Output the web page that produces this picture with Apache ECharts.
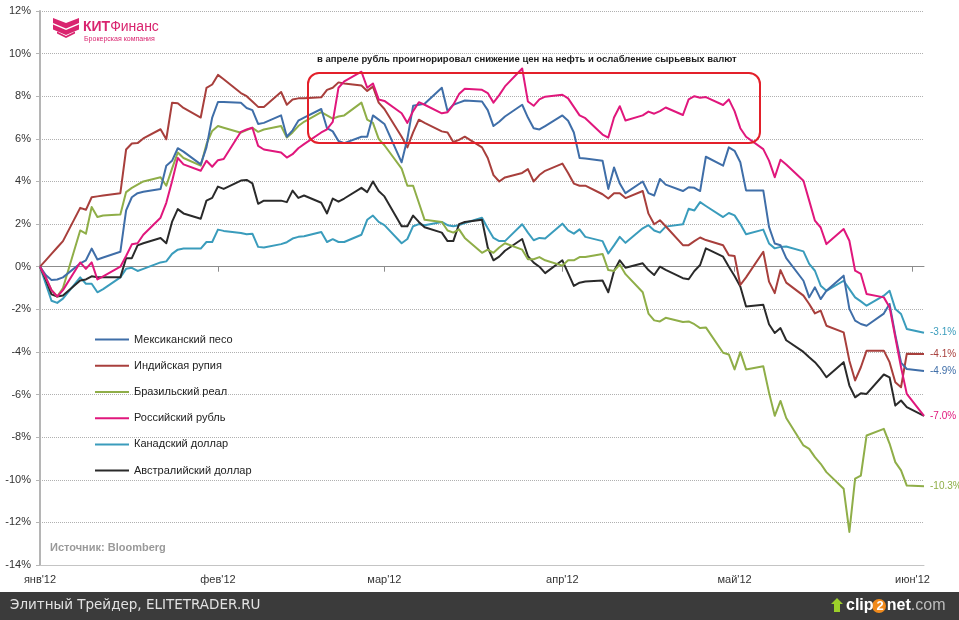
<!DOCTYPE html>
<html>
<head>
<meta charset="utf-8">
<script src="https://cdn.jsdelivr.net/npm/echarts@6/dist/echarts.min.js"></script>
<style>
html,body{margin:0;padding:0;background:#fff;}
#chart{width:959px;height:620px;}
</style>
</head>
<body>
<div id="chart"></div>
<script>
// ---- data (daily % change since start of year, weekdays Jan 2 – Jun 4 2012) ----
const monthLabels = ["янв'12", "фев'12", "мар'12", "апр'12", "май'12", "июн'12"];
const seriesNames = ["Мексиканский песо", "Индийская рупия", "Бразильский реал", "Российский рубль", "Канадский доллар", "Австралийский доллар"];

const peso = [0, -0.39, -0.62, -0.6, -0.5,
 0.15, 0.3, 0.85, 0.34, 0.43,
 0.7, 2.64, 3.26, 3.45, 3.52,
 3.65, 4.74, 4.97, 5.56, 5.4,
 4.8, 5.6, 7.0, 7.73, 7.73,
 7.69, 7.45, 7.35, 6.7, 6.75,
 7.1, 6.1, 6.4, 6.85, 7.0,
 7.4, 6.5, 6.35, 5.9, 5.8,
 6.1, 6.1, 7.1, 6.9, 6.7,
 4.9, 6.0, 7.55, 7.6, 7.65,
 8.4, 7.3, 7.6, 7.7, 7.8,
 7.75, 7.35, 6.6, 6.8, 7.05,
 7.6, 7.0, 6.5, 6.44, 6.6,
 7.1, 6.85, 6.3, 5.1, 5.08,
 4.97, 3.65, 4.66, 3.9, 3.45,
 4.0, 3.45, 3.34, 4.12, 3.85,
 3.55, 3.73, 3.7, 3.55, 5.16,
 4.74, 5.6, 5.44, 4.9, 3.58,
 3.58, 1.87, 1.09, 1.01, 0.4,
 -0.66, -1.44, -0.97, -1.52, -1.13,
 -0.42, -1.98, -2.53, -2.69, -2.77,
 -2.2, -1.75, -3.2, -4.5, -4.8,
 -4.9];

const rupee = [0, 0.3, 0.6, 0.9, 1.2,
 2.76, 2.67, 3.26, 3.3, 3.34,
 3.45, 5.5, 5.78, 5.8, 6.02,
 6.45, 5.98, 7.69, 7.67, 7.45,
 7.0, 8.39, 8.55, 9.0, 8.8,
 8.15, 8.0, 7.75, 7.5, 7.5,
 8.2, 7.6, 7.85, 7.9, 7.9,
 7.95, 8.3, 8.4, 8.65, 8.6,
 8.5, 8.25, 8.45, 7.7, 7.4,
 6.1, 5.6, 6.3, 6.9, 6.75,
 6.35, 6.3, 5.85, 5.95, 6.1,
 5.6, 5.1, 4.3, 4.0, 4.19,
 4.4, 4.58, 4.0, 4.3, 4.5,
 4.84, 4.4, 3.9, 3.8, 3.8,
 3.4, 3.2, 3.45, 3.45, 3.22,
 3.55, 2.49, 1.99, 2.18, 1.9,
 1.01, 1.01, 1.2, 1.37, 1.25,
 1.01, 0.54, 0.5, -0.86, -0.5,
 0.7, -0.7, -1.24, -0.16, -0.75,
 -1.36, -1.75, -2.19, -2.06, -2.77,
 -3.08, -4.41, -5.34, -4.72, -3.94,
 -3.94, -4.48, -5.42, -5.66, -4.09,
 -4.1];

const real = [0, -0.5, -1.1, -1.4, -1.0,
 1.7, 1.55, 2.8, 2.33, 2.4,
 2.45, 3.5, 3.7, 3.85, 4.0,
 4.2, 3.8, 4.6, 5.36, 5.1,
 4.74, 5.75, 6.37, 6.6, 6.52,
 6.29, 6.41, 6.52, 6.33, 6.44,
 6.6, 6.06, 6.3, 6.6, 6.8,
 7.25, 7.1, 6.95, 7.05, 7.1,
 7.7, 6.9, 6.75, 6.0, 5.7,
 4.6, 3.8, 3.8, 3.0, 2.2,
 2.1, 1.7, 1.6, 1.75, 1.35,
 0.65, 0.8, 0.65, 0.9, 1.1,
 0.8, 0.35, 0.35, 0.45, 0.3,
 0.05, 0.3, 0.3, 0.45, 0.45,
 0.6, -0.16, -0.2, 0.1, -0.35,
 -1.2, -2.2, -2.52, -2.57, -2.4,
 -2.6, -2.57, -2.7, -2.88, -2.85,
 -4.04, -4.12, -4.82, -4.01, -4.82,
 -4.67, -5.91, -7.0, -6.3, -7.1,
 -8.39, -8.55, -8.94, -9.25, -9.64,
 -10.42, -12.45, -9.95, -9.8, -7.92,
 -7.61, -8.3, -9.17, -9.56, -10.27,
 -10.3];

const ruble = [0, -0.5, -1.1, -1.4, -1.1,
 0.2, -0.1, 0.2, -0.6, -0.45,
 0.0, 0.5, 1.05, 1.1, 1.5,
 2.3, 3.0, 4.0, 5.1, 4.8,
 4.5, 4.97, 4.69, 5.0, 5.05,
 6.33, 6.44, 6.52, 5.67, 5.5,
 5.36, 5.12, 5.28, 5.56, 5.75,
 6.3, 6.45, 6.8, 8.4, 8.7,
 9.15, 8.4, 8.6, 7.85, 7.78,
 7.2, 6.75, 7.3, 7.72, 7.6,
 7.2, 7.25, 7.6, 8.1, 8.35,
 8.3, 8.15, 7.7, 8.05, 8.46,
 9.3, 7.75, 7.55, 7.85, 7.98,
 8.07, 7.9, 7.5, 7.1, 6.97,
 6.2, 6.06, 7.0, 7.53, 6.86,
 7.1, 7.28, 7.18, 7.3, 7.47,
 7.12, 7.85, 8.0, 7.93, 7.96,
 7.59, 7.85, 7.3, 6.5, 6.1,
 5.52, 4.98, 4.2, 5.02, 4.8,
 4.03, 3.1, 2.16, 1.84, 1.06,
 1.77, 1.22, -0.19, -0.34, -1.28,
 -1.44, -1.9, -3.31, -4.72, -5.97,
 -7.0];

const cad = [0, -0.8, -1.6, -1.7, -1.5,
 -0.5, -0.8, -0.8, -1.2, -1.05,
 -0.5, -0.1, -0.05, -0.2, -0.1,
 0.2, 0.25, 0.6, 0.8, 0.85,
 0.85, 1.16, 1.16, 1.74, 1.68,
 1.58, 1.52, 1.55, 0.93, 0.9,
 1.06, 1.15, 1.32, 1.4, 1.43,
 1.63, 1.16, 1.29, 1.16, 1.16,
 1.5, 2.2, 2.4, 2.1, 1.95,
 1.1, 1.3, 1.9, 2.0, 1.95,
 2.1, 1.95, 1.9, 1.95, 2.05,
 2.3, 1.8, 1.35, 1.2, 1.2,
 1.99, 1.6, 1.24, 1.35, 1.32,
 2.02, 1.7, 1.55, 1.75, 1.4,
 1.2, 0.62, 1.0, 1.4, 1.12,
 1.8, 1.95, 1.7, 1.6, 1.88,
 1.99, 2.72, 2.64, 3.03, 2.85,
 2.33, 2.52, 2.41, 2.0, 1.52,
 1.74, 1.09, 0.86, 0.93, 0.95,
 0.72, 0.13, -0.19, -0.89, -1.13,
 -0.66, -1.05, -1.44, -1.63, -1.83,
 -1.36, -1.13, -1.98, -2.22, -2.92,
 -3.1];

const aud = [0, -0.6, -1.3, -1.4, -1.35,
 -0.65, -0.6, -0.45, -0.5, -0.5,
 -0.5, 0.4, 0.4, 1.0, 1.1,
 1.35, 1.1, 2.1, 2.7, 2.5,
 2.25, 3.1, 3.23, 3.76, 3.65,
 4.04, 4.07, 3.91, 2.95, 3.1,
 3.1, 3.03, 3.57, 3.23, 3.34,
 3.0, 2.5, 3.2, 3.05, 3.2,
 3.7, 3.5, 4.0, 3.55, 3.3,
 1.9, 1.9, 2.4, 2.1, 1.85,
 1.6, 1.2, 1.2, 2.0, 2.1,
 2.2, 0.9, 0.3, 0.47, 0.75,
 1.3, 0.5, 0.19, 0.0, -0.3,
 0.3, -0.3, -0.9, -0.75, -0.7,
 -0.65, -1.2, -0.2, 0.3, -0.05,
 0.16, -0.16, -0.39, 0.0, -0.15,
 -0.54, -0.59, -0.2, 0.08, 0.86,
 0.47, 0.0, -0.44, -0.93, -1.87,
 -1.79, -2.7, -3.11, -2.88, -3.45,
 -4.0, -4.25, -4.48, -4.8, -5.19,
 -4.48, -5.58, -6.13, -5.94, -5.97,
 -5.06, -5.19, -6.52, -6.28, -6.59,
 -7.0];

// ---- calendar axis: every day Jan 2 .. Jun 4 2012; data on weekdays ----
const calendar = [];
const tradeIdx = [];
for (let i = 0; i <= 154; i++) {
  const d = new Date(Date.UTC(2012, 0, 2 + i));
  calendar.push(d.toISOString().slice(0, 10));
  const wd = d.getUTCDay();
  if (wd >= 1 && wd <= 5) tradeIdx.push(i);
}
const isMonthMark = (idx) => calendar[idx] && calendar[idx].slice(8, 10) === '02';
const monthOf = (v) => monthLabels[parseInt(v.slice(5, 7), 10) - 1];

const colors = {
  peso: '#3f6ea8', rupee: '#a83f3c', real: '#8fae48',
  ruble: '#e0177c', cad: '#3a9cbc', aud: '#2a2a2a'
};

function mk(name, arr, color, z, label) {
  return {
    name: name, type: 'line', xAxisIndex: 0, yAxisIndex: 0,
    data: tradeIdx.map((d, i) => [d, arr[i]]),
    symbol: 'none', z: z,
    lineStyle: { width: 2, color: color, join: 'round' },
    itemStyle: { color: color },
    endLabel: label ? {
      show: true, distance: 6, color: color, fontSize: 10,
      fontFamily: 'Liberation Sans',
      formatter: (p) => p.value[1].toFixed(1) + '%'
    } : { show: false }
  };
}

const chart = echarts.init(document.getElementById('chart'), null, { renderer: 'canvas' });
const option = {
  animation: false,
  backgroundColor: '#ffffff',
  textStyle: { fontFamily: 'Liberation Sans' },
  grid: { left: 40, right: 35, top: 11, bottom: 55, containLabel: false },
  legend: {
    orient: 'vertical', left: 94, top: 334, padding: 0,
    itemWidth: 34, itemHeight: 14, itemGap: 15,
    data: seriesNames,
    itemStyle: { opacity: 0 },
    textStyle: { fontSize: 11, color: '#222', fontFamily: 'Liberation Sans' },
    selectedMode: false
  },
  xAxis: [{
    type: 'category', data: calendar, boundaryGap: false, position: 'bottom',
    axisLine: { onZero: false, lineStyle: { color: '#c4c4c4', width: 1 } },
    axisTick: { show: false },
    axisLabel: {
      interval: (i) => isMonthMark(i), formatter: (v) => monthOf(v),
      fontSize: 11, color: '#333', margin: 9, fontFamily: 'Liberation Sans'
    },
    splitLine: { show: false }
  }, {
    type: 'category', data: calendar, boundaryGap: false, position: 'bottom',
    axisLine: { onZero: true, lineStyle: { color: '#8c8c8c', width: 1 } },
    axisTick: { show: true, interval: (i) => isMonthMark(i), length: 5, lineStyle: { color: '#8c8c8c' } },
    axisLabel: { show: false },
    splitLine: { show: false }
  }],
  yAxis: {
    type: 'value', min: -14, max: 12, interval: 2,
    axisLine: { show: true, lineStyle: { color: '#b5b5b5', width: 2 } },
    axisTick: { show: true, length: 4, lineStyle: { color: '#b5b5b5' } },
    axisLabel: { formatter: '{value}%', fontSize: 11, color: '#333', margin: 9, fontFamily: 'Liberation Sans' },
    splitLine: { show: true, lineStyle: { type: 'dotted', color: '#b0b0b0', width: 1 } }
  },
  series: [
    mk(seriesNames[4], cad, colors.cad, 2, true),
    mk(seriesNames[5], aud, colors.aud, 3, false),
    mk(seriesNames[2], real, colors.real, 4, true),
    mk(seriesNames[1], rupee, colors.rupee, 5, true),
    mk(seriesNames[0], peso, colors.peso, 6, true),
    mk(seriesNames[3], ruble, colors.ruble, 7, true)
  ],
  graphic: [
    // logo chevrons
    { type: 'polygon', shape: { points: [[53,18],[66,23],[79,18],[79,23],[66,28.5],[53,23]] }, style: { fill: '#d9246f' } },
    { type: 'polygon', shape: { points: [[53,24.5],[66,30],[79,24.5],[79,29.5],[66,35],[53,29.5]] }, style: { fill: '#d9246f' } },
    { type: 'polygon', shape: { points: [[57,31.5],[66,36],[75,31.5],[75,33.5],[66,38],[57,33.5]] }, style: { fill: '#d9246f' } },
    { type: 'text', left: 83, top: 20, style: {
        text: '{b|КИТ}{n|Финанс}',
        rich: {
          b: { fontSize: 14, fontWeight: 'bold', fill: '#d9246f', fontFamily: 'Liberation Sans' },
          n: { fontSize: 14, fill: '#d9246f', fontFamily: 'Liberation Sans' }
        } } },
    { type: 'text', left: 84, top: 36, style: { text: 'Брокерская компания', fontSize: 7, fill: '#d9246f', fontFamily: 'Liberation Sans' } },
    // source
    { type: 'text', left: 50, top: 542, style: { text: 'Источник: Bloomberg', fontSize: 11, fontWeight: 'bold', fill: '#9a9a9a', fontFamily: 'Liberation Sans' } },
    // annotation
    { type: 'text', left: 317, top: 54, style: { text: 'в апреле рубль проигнорировал снижение цен на нефть и ослабление сырьевых валют', fontSize: 9.5, fontWeight: 'bold', fill: '#1a1a1a', fontFamily: 'Liberation Sans' } },
    { type: 'rect', shape: { x: 308, y: 73, width: 452, height: 70, r: 11 }, style: { fill: 'none', stroke: '#e3202a', lineWidth: 2 }, z: 100 },
    // bottom bar
    { type: 'rect', shape: { x: 0, y: 592, width: 959, height: 28 }, style: { fill: '#3b3b3b' }, z: 100 },
    { type: 'text', left: 10, top: 598, z: 101, style: { text: 'Элитный Трейдер, ELITETRADER.RU', fontSize: 13.5, fill: '#e2e2e2', fontFamily: 'DejaVu Sans' } },
    { type: 'polygon', z: 101, shape: { points: [[837,598],[843,604],[840,604],[840,612],[834,612],[834,604],[831,604]] }, style: { fill: '#9ccf2a' } },
    { type: 'circle', z: 101, shape: { cx: 879, cy: 606, r: 7 }, style: { fill: '#f08a1c' } },
    { type: 'text', left: 846, top: 598, z: 102, style: {
        text: '{w|clip}{o|2}{w|net}{g|.com}',
        rich: {
          w: { fontSize: 16, fontWeight: 'bold', fill: '#ffffff', fontFamily: 'Liberation Sans' },
          o: { fontSize: 13, fontWeight: 'bold', fill: '#ffffff', fontFamily: 'Liberation Sans', padding: [0, 3, 0, 3] },
          g: { fontSize: 16, fill: '#bdbdbd', fontFamily: 'Liberation Sans' }
        } } }
  ]
};
chart.setOption(option);
</script>
</body>
</html>
